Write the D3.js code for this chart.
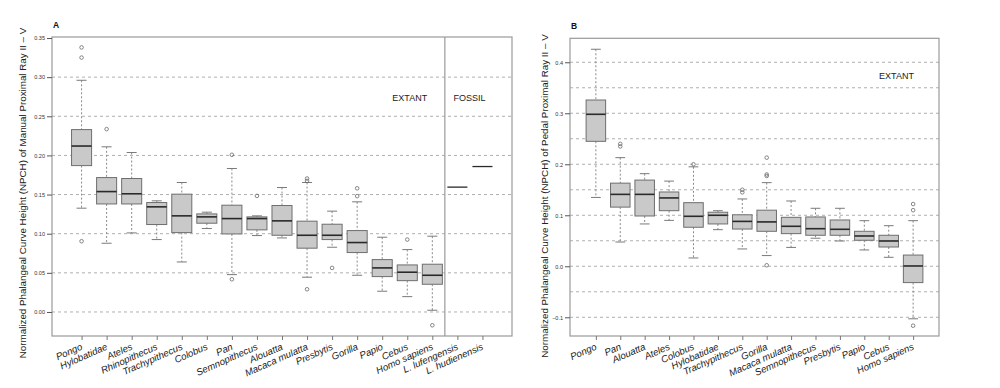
<!DOCTYPE html>
<html>
<head>
<meta charset="utf-8">
<script src="https://cdn.jsdelivr.net/npm/d3@7"></script>
<style>
  body { margin: 0; background: #fff; }
  svg { font-family: "Liberation Sans", Arial, sans-serif; }
</style>
</head>
<body>
<svg id="chart" width="1000" height="388"></svg>
<script>
// Panel A: manual proximal ray II-V
const taxaA = ["Pongo", "Hylobatidae", "Ateles", "Rhinopithecus", "Trachypithecus",
  "Colobus", "Pan", "Semnopithecus", "Alouatta", "Macaca mulatta", "Presbytis",
  "Gorilla", "Papio", "Cebus", "Homo sapiens"];
// [lower whisker, Q1, median, Q3, upper whisker]
const statsA = [
  [0.1326, 0.187, 0.212, 0.233, 0.296],
  [0.0878, 0.138, 0.1538, 0.1717, 0.211],
  [0.101, 0.138, 0.151, 0.1705, 0.2037],
  [0.0925, 0.1117, 0.1343, 0.1398, 0.142],
  [0.0639, 0.1014, 0.1228, 0.1505, 0.1654],
  [0.1066, 0.1134, 0.1215, 0.1253, 0.1275],
  [0.0477, 0.0997, 0.1193, 0.1364, 0.1833],
  [0.0976, 0.1049, 0.1193, 0.1215, 0.1228],
  [0.0946, 0.098, 0.1164, 0.136, 0.159],
  [0.0444, 0.0815, 0.098, 0.116, 0.1654],
  [0.0827, 0.0925, 0.098, 0.1121, 0.1288],
  [0.0469, 0.0759, 0.0887, 0.104, 0.1407],
  [0.0265, 0.0452, 0.0563, 0.0669, 0.0955],
  [0.0196, 0.04, 0.0508, 0.0601, 0.0797],
  [0.0022, 0.0354, 0.0469, 0.061, 0.0968]
];
const outliersA = [
  [0.338, 0.325, 0.0904], [0.2336], [], [], [], [], [0.2008, 0.0418],
  [0.1483], [], [0.1705, 0.1675, 0.029], [0.0563], [0.158, 0.148], [],
  [0.0925], [-0.017]
];
const fossilsA = ["L. lufengensis", "L. hudienensis"];
const fossilValuesA = [0.1595, 0.1858];
const yTicksA = [0.00, 0.05, 0.10, 0.15, 0.20, 0.25, 0.30, 0.35];

// Panel B: pedal proximal ray II-V
const taxaB = ["Pongo", "Pan", "Alouatta", "Ateles", "Colobus", "Hylobatidae",
  "Trachypithecus", "Gorilla", "Macaca mulatta", "Semnopithecus", "Presbytis",
  "Papio", "Cebus", "Homo sapiens"];
const statsB = [
  [0.135, 0.245, 0.298, 0.326, 0.4255],
  [0.0476, 0.116, 0.141, 0.163, 0.213],
  [0.083, 0.0986, 0.141, 0.169, 0.1816],
  [0.090, 0.109, 0.134, 0.1457, 0.167],
  [0.0163, 0.0765, 0.098, 0.1247, 0.195],
  [0.0718, 0.083, 0.100, 0.106, 0.109],
  [0.034, 0.073, 0.088, 0.101, 0.132],
  [0.021, 0.0686, 0.087, 0.110, 0.164],
  [0.037, 0.064, 0.0784, 0.096, 0.128],
  [0.055, 0.0608, 0.0737, 0.0967, 0.1137],
  [0.0496, 0.0608, 0.0725, 0.0908, 0.1137],
  [0.032, 0.051, 0.0594, 0.0686, 0.0894],
  [0.0176, 0.0378, 0.0496, 0.0608, 0.0796],
  [-0.103, -0.032, 0.0006, 0.022, 0.0894]
];
const outliersB = [
  [], [0.240, 0.235], [], [], [0.200], [], [0.150, 0.145],
  [0.213, 0.180, 0.177, 0.002], [], [], [], [], [], [0.122, 0.110, -0.1165]
];
const yTicksB = [-0.1, 0.0, 0.1, 0.2, 0.3, 0.4];

const svg = d3.select("#chart");

function drawPanel(opt) {
  const { left, right, top, bottom } = opt;
  const x = d3.scaleLinear().domain(opt.xDomain).range([left, right]);
  const y = d3.scaleLinear().domain(opt.yDomain).range([bottom, top]);
  const g = svg.append("g");
  const half = 0.4, cap = 0.2;

  // dashed grid
  g.append("g").selectAll("line")
    .data(opt.grid)
    .join("line")
    .attr("x1", left).attr("x2", right)
    .attr("y1", (d) => y(d)).attr("y2", (d) => y(d))
    .attr("stroke", "#9a9a9a")
    .attr("stroke-width", 0.8)
    .attr("stroke-dasharray", "3,3");

  const labels = opt.taxa.concat(opt.fossils || []);

  // boxplots
  opt.stats.forEach((s, k) => {
    const i = k + 1;
    const [lo, q1, med, q3, hi] = s;
    const b = g.append("g");
    b.append("line")
      .attr("x1", x(i)).attr("x2", x(i))
      .attr("y1", y(hi)).attr("y2", y(q3))
      .attr("stroke", "#8a8a8a").attr("stroke-dasharray", "2,2");
    b.append("line")
      .attr("x1", x(i)).attr("x2", x(i))
      .attr("y1", y(q1)).attr("y2", y(lo))
      .attr("stroke", "#8a8a8a").attr("stroke-dasharray", "2,2");
    [lo, hi].forEach((v) => {
      b.append("line")
        .attr("x1", x(i - cap)).attr("x2", x(i + cap))
        .attr("y1", y(v)).attr("y2", y(v))
        .attr("stroke", "#7a7a7a");
    });
    b.append("rect")
      .attr("x", x(i - half))
      .attr("y", y(q3))
      .attr("width", x(i + half) - x(i - half))
      .attr("height", y(q1) - y(q3))
      .attr("fill", "#c9c9c9")
      .attr("stroke", "#6e6e6e")
      .attr("stroke-width", 1);
    b.append("line")
      .attr("x1", x(i - half)).attr("x2", x(i + half))
      .attr("y1", y(med)).attr("y2", y(med))
      .attr("stroke", "#2a2a2a").attr("stroke-width", 1.6);
    opt.outliers[k].forEach((v) => {
      b.append("circle")
        .attr("cx", x(i)).attr("cy", y(v)).attr("r", 1.8)
        .attr("fill", "none").attr("stroke", "#6a6a6a").attr("stroke-width", 0.8);
    });
  });

  // fossil single values
  (opt.fossilValues || []).forEach((v, k) => {
    const i = opt.taxa.length + k + 1;
    g.append("line")
      .attr("x1", x(i - half)).attr("x2", x(i + half))
      .attr("y1", y(v)).attr("y2", y(v))
      .attr("stroke", "#2a2a2a").attr("stroke-width", 1.3);
  });

  if (opt.divider) {
    g.append("line")
      .attr("x1", x(opt.divider)).attr("x2", x(opt.divider))
      .attr("y1", top).attr("y2", bottom)
      .attr("stroke", "#9a9a9a").attr("stroke-width", 1.2);
  }

  // plot frame
  g.append("rect")
    .attr("x", left).attr("y", top)
    .attr("width", right - left).attr("height", bottom - top)
    .attr("fill", "none").attr("stroke", "#9a9a9a").attr("stroke-width", 1.2);

  // y axis
  const ya = g.append("g")
    .attr("transform", `translate(${left},0)`)
    .call(d3.axisLeft(y).tickValues(opt.yTicks).tickSize(5).tickPadding(2)
      .tickFormat(opt.yFormat));
  ya.select(".domain").remove();
  ya.selectAll("line").attr("stroke", "#555");
  ya.selectAll("text").attr("font-size", 5.5).style("fill", "#333")
    .attr("font-family", "Liberation Sans, Arial, sans-serif");

  // x axis
  const xa = g.append("g")
    .attr("transform", `translate(0,${bottom})`)
    .call(d3.axisBottom(x).tickValues(d3.range(1, labels.length + 1))
      .tickSize(4).tickFormat((d) => labels[d - 1]));
  xa.select(".domain").remove();
  xa.selectAll("line").attr("stroke", "#777");
  xa.selectAll("text")
    .attr("y", 0).attr("dy", 0).attr("x", 0)
    .attr("transform", "translate(1,13) rotate(-24)")
    .attr("text-anchor", "end")
    .attr("font-size", 9.6)
    .attr("font-style", "italic")
    .style("fill", "#222")
    .attr("font-family", "Liberation Sans, Arial, sans-serif");

  // axis title
  g.append("text")
    .attr("transform", `translate(${opt.titleX},${opt.titleY}) rotate(-90)`)
    .attr("text-anchor", "middle")
    .attr("dy", "0.35em")
    .attr("font-size", 9.8)
    .style("fill", "#222")
    .text(opt.title);

  // panel letter
  g.append("text")
    .attr("x", left + 1).attr("y", top - 9)
    .attr("font-size", 8.5).attr("font-weight", "bold").style("fill", "#111")
    .text(opt.letter);

  opt.notes.forEach((n) => {
    g.append("text")
      .attr("x", x(n.at[0])).attr("y", y(n.at[1]))
      .attr("text-anchor", "middle").attr("dy", "0.35em")
      .attr("font-size", 9).style("fill", "#222")
      .text(n.text);
  });
}

drawPanel({
  left: 52, right: 512, top: 37, bottom: 336,
  xDomain: [-0.18, 18.18], yDomain: [-0.0307, 0.3513],
  taxa: taxaA, stats: statsA, outliers: outliersA,
  fossils: fossilsA, fossilValues: fossilValuesA,
  grid: [0.00, 0.05, 0.10, 0.15, 0.20, 0.25, 0.30],
  yTicks: yTicksA, yFormat: d3.format(".2f"),
  divider: 15.5,
  titleX: 23, titleY: 193,
  title: "Normalized Phalangeal Curve Height (NPCH) of Manual Proximal Ray II \u2013 V",
  letter: "A",
  notes: [{ text: "EXTANT", at: [14.1, 0.274] }, { text: "FOSSIL", at: [16.48, 0.274] }]
});

drawPanel({
  left: 570, right: 939, top: 38.3, bottom: 336,
  xDomain: [-0.06, 15.06], yDomain: [-0.1367, 0.447],
  taxa: taxaB, stats: statsB, outliers: outliersB,
  grid: [-0.1, -0.05, 0.0, 0.05, 0.1, 0.15, 0.2, 0.25, 0.3, 0.35, 0.4],
  yTicks: yTicksB, yFormat: d3.format(".1f"),
  titleX: 545, titleY: 196,
  title: "Normalized Phalangeal Curve Height (NPCH) of Pedal Proximal Ray II \u2013 V",
  letter: "B",
  notes: [{ text: "EXTANT", at: [13.32, 0.373] }]
});
</script>
</body>
</html>
